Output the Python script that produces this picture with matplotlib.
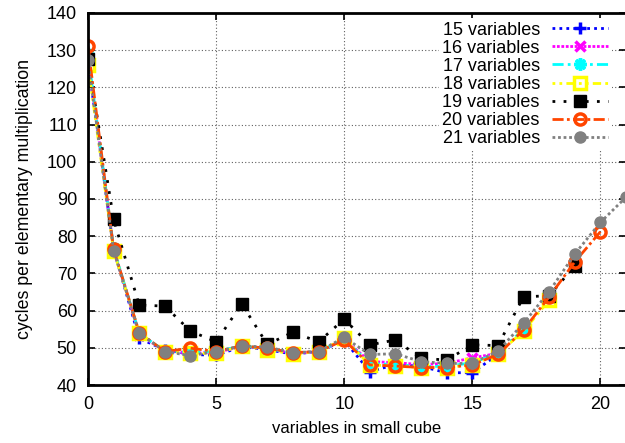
import matplotlib
matplotlib.use("Agg")
import matplotlib.pyplot as plt

plt.rcParams['font.family'] = ['Liberation Sans', 'DejaVu Sans']

labels = ["15 variables", "16 variables", "17 variables", "18 variables",
          "19 variables", "20 variables", "21 variables"]

v15 = [127, 76.5, 52.5, 49.5, 48.2, 48.0, 50.3, 49.5, 48.3, 49.0, 52.0, 43.6, 45.5, 45.0, 43.3, 43.3, 48.2]
v16 = [128, 76.5, 53.5, 49.2, 48.5, 48.8, 50.3, 49.8, 48.5, 49.0, 52.3, 46.3, 46.0, 45.5, 45.8, 47.3, 48.5]
v17 = [129, 76.8, 53.8, 49.2, 48.8, 49.0, 50.5, 49.8, 48.6, 49.0, 52.3, 45.8, 45.5, 45.0, 45.0, 46.0, 48.5, 55.0]
v18 = [126, 76.0, 54.0, 49.0, 48.5, 48.5, 50.5, 49.5, 48.3, 49.0, 52.5, 45.4, 45.1, 44.7, 44.7, 45.5, 48.3, 54.5, 62.8]
v19 = [127.5, 84.5, 61.5, 61.2, 54.5, 51.6, 61.8, 50.9, 54.2, 51.6, 57.7, 50.8, 52.1, 47.2, 46.7, 50.8, 50.6, 63.7, 64.0, 72.0]
v20 = [131, 76.5, 54.1, 49.0, 49.9, 49.0, 50.5, 49.9, 48.7, 49.0, 52.1, 45.4, 45.1, 44.7, 44.7, 45.4, 48.2, 54.8, 63.7, 73.1, 81.2]
v21 = [127.3, 76.1, 54.0, 49.0, 47.9, 49.0, 50.5, 50.2, 48.7, 49.0, 52.8, 48.2, 48.4, 46.3, 45.8, 45.8, 49.1, 56.6, 65.1, 75.2, 83.7, 90.5]

series = [v15, v16, v17, v18, v19, v20, v21]

styles = [
    dict(color='#0000ff', linestyle=(0, (1, 1.5)), marker='+', markersize=8, markeredgewidth=2.5),
    dict(color='#ff00ff', linestyle=(0, (1, 0.6)), marker='x', markersize=7, markeredgewidth=2.5),
    dict(color='#00ffff', linestyle=(0, (4, 1.5, 1, 1.5)), marker=(8, 2, 0), markersize=9, markeredgewidth=2.5),
    dict(color='#ffff00', linestyle=(0, (1, 1.5, 1, 1.5, 3, 1.5)), marker='s', markersize=8,
         markerfacecolor='none', markeredgewidth=2.5),
    dict(color='#000000', linestyle=(0, (1, 3)), marker='s', markersize=8.5),
    dict(color='#ff4500', linestyle=(0, (4, 1.2, 1, 1.2)), marker='o', markersize=8,
         markerfacecolor='none', markeredgewidth=2.5),
    dict(color='#808080', linestyle=(0, (1, 1)), marker='o', markersize=8),
]

fig = plt.figure(figsize=(6.25, 4.43), dpi=100)
ax = fig.add_axes([88/625, 1 - 385/443, (626 - 88)/625, (385 - 13)/443])

for vals, lab, st in zip(series, labels, styles):
    ax.plot(range(len(vals)), vals, label=lab, linewidth=2, **st)

ax.set_xlim(0, 21)
ax.set_ylim(40, 140)
ax.set_xticks([0, 5, 10, 15, 20])
ax.set_yticks(range(40, 141, 10))
ax.tick_params(direction='in', top=True, right=True, labelsize=13, length=5, width=1.2, pad=8)
ax.grid(True, color='#606060', linestyle=(0, (1, 2)), linewidth=0.8)
for s in ax.spines.values():
    s.set_linewidth(2)

ax.set_xlabel("variables in small cube", fontsize=12, labelpad=6)
ax.set_ylabel("cycles per elementary multiplication", fontsize=12.8, labelpad=10)

leg = ax.legend(loc='upper right', bbox_to_anchor=(1.0 - 14/538, 1.0 - 5/372),
                frameon=True, fancybox=False, edgecolor='none', framealpha=1,
                markerfirst=False, fontsize=13, handlelength=3.1, labelspacing=0.06,
                borderpad=0.2, handletextpad=0.7, borderaxespad=0)
for t in leg.get_texts():
    t.set_ha('right')

fig.savefig("out.png", dpi=100)
